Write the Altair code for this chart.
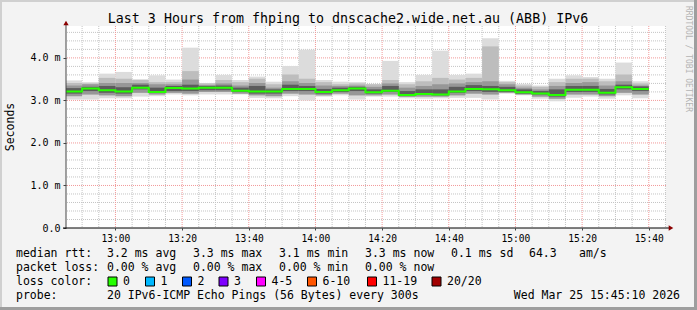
import altair as alt
import pandas as pd

# ---------------- data ----------------
col_times = ["12:45", "12:50", "12:55", "13:00", "13:05", "13:10", "13:15", "13:20",
             "13:25", "13:30", "13:35", "13:40", "13:45", "13:50", "13:55", "14:00",
             "14:05", "14:10", "14:15", "14:20", "14:25", "14:30", "14:35", "14:40",
             "14:45", "14:50", "14:55", "15:00", "15:05", "15:10", "15:15", "15:20",
             "15:25", "15:30", "15:35"]

rtt_min = [3.02, 3.02, 3.05, 3.05, 3.09, 3.10, 3.14, 3.12, 3.14, 3.14, 3.14, 3.06,
           3.05, 3.10, 3.00, 3.09, 3.12, 3.02, 3.09, 3.09, 3.05, 3.04, 3.05, 3.06,
           3.06, 3.02, 3.16, 3.12, 3.04, 2.98, 3.06, 3.09, 3.04, 3.12, 3.05]
rtt_lo2 = [3.10, 3.14, 3.12, 3.10, 3.18, 3.14, 3.18, 3.16, 3.20, 3.20, 3.16, 3.12,
           3.10, 3.16, 3.14, 3.12, 3.16, 3.12, 3.12, 3.14, 3.09, 3.09, 3.09, 3.12,
           3.16, 3.14, 3.18, 3.14, 3.09, 3.04, 3.14, 3.14, 3.10, 3.18, 3.14]
rtt_lo3 = [3.16, 3.22, 3.18, 3.16, 3.26, 3.18, 3.22, 3.22, 3.24, 3.24, 3.20, 3.16,
           3.16, 3.22, 3.22, 3.16, 3.20, 3.22, 3.16, 3.20, 3.10, 3.13, 3.12, 3.18,
           3.22, 3.20, 3.20, 3.16, 3.14, 3.09, 3.20, 3.20, 3.14, 3.26, 3.22]
rtt_median = [3.21, 3.28, 3.24, 3.21, 3.30, 3.20, 3.29, 3.28, 3.30, 3.30, 3.23, 3.21,
              3.21, 3.27, 3.27, 3.20, 3.24, 3.28, 3.19, 3.23, 3.13, 3.15, 3.14, 3.21,
              3.27, 3.26, 3.24, 3.19, 3.16, 3.13, 3.25, 3.25, 3.18, 3.31, 3.27]
rtt_hi3 = [3.29, 3.32, 3.34, 3.31, 3.37, 3.30, 3.34, 3.37, 3.34, 3.35, 3.30, 3.34,
           3.26, 3.37, 3.34, 3.27, 3.30, 3.32, 3.26, 3.34, 3.22, 3.26, 3.26, 3.32,
           3.36, 3.34, 3.32, 3.26, 3.22, 3.26, 3.34, 3.34, 3.27, 3.37, 3.33]
rtt_hi2 = [3.35, 3.38, 3.41, 3.41, 3.41, 3.38, 3.38, 3.49, 3.36, 3.40, 3.35, 3.41,
           3.30, 3.45, 3.41, 3.35, 3.34, 3.35, 3.32, 3.40, 3.30, 3.34, 3.38, 3.40,
           3.43, 3.45, 3.38, 3.30, 3.26, 3.34, 3.41, 3.43, 3.35, 3.45, 3.35]
rtt_hi1 = [3.41, 3.40, 3.53, 3.51, 3.48, 3.43, 3.43, 3.69, 3.40, 3.48, 3.43, 3.51,
           3.38, 3.61, 3.51, 3.43, 3.38, 3.40, 3.38, 3.48, 3.38, 3.45, 3.53, 3.49,
           3.53, 4.27, 3.43, 3.35, 3.32, 3.43, 3.51, 3.51, 3.45, 3.61, 3.40]
rtt_max = [3.47, 3.43, 3.63, 3.67, 3.50, 3.59, 3.49, 4.24, 3.41, 3.60, 3.48, 3.56,
           3.44, 3.81, 4.19, 3.48, 3.44, 3.43, 3.39, 3.93, 3.43, 3.60, 4.17, 3.60,
           3.63, 4.46, 3.46, 3.39, 3.35, 3.51, 3.59, 3.55, 3.51, 3.89, 3.45]

x_tick_labels = ["13:00", "13:20", "13:40", "14:00", "14:20", "14:40", "15:00", "15:20", "15:40"]
y_tick_values = [0, 1, 2, 3, 4]

loss_labels = ["0", "1", "2", "3", "4-5", "6-10", "11-19", "20/20"]
loss_colors = ["#26ff00", "#00b8ff", "#0059ff", "#7e00ff", "#ff00ff", "#ff5500", "#ff0000", "#a10000"]

title_text = "Last 3 Hours from fhping to dnscache2.wide.net.au (ABB) IPv6"
line1 = [("median rtt:", 16), ("3.2 ms avg", 107), ("3.3 ms max", 193), ("3.1 ms min", 279),
         ("3.3 ms now", 365), ("0.1 ms sd", 451), ("64.3", 529), ("am/s", 579)]
line2 = [("packet loss:", 16), ("0.00 % avg", 107), ("0.00 % max", 193),
         ("0.00 % min", 279), ("0.00 % now", 365)]
line4 = [("probe:", 16), ("20 IPv6-ICMP Echo Pings (56 Bytes) every 300s", 107)]
stamp_text = "Wed Mar 25 15:45:10 2026"

# ---------------- helpers ----------------
def to_min(s):
    h, m = s.split(":")
    return (int(h) - 12) * 60 + int(m)

X0 = 45 + 10 / 60.0      # 12:45:10
X1 = X0 + 180            # 15:45:10
LEFT, TOP, W, H = 66, 26, 600, 202
YMAX = 4.75

xs = alt.Scale(domain=[X0, X1], nice=False, zero=False)
ys = alt.Scale(domain=[0, YMAX], nice=False, zero=True)

starts = [to_min(t) for t in col_times]
ends = [s + 5 for s in starts]

band_defs = [
    ("b1", rtt_min, rtt_max, "#dcdcdc"),
    ("b2", rtt_lo2, rtt_hi1, "#bdbdbd"),
    ("b3", rtt_lo2, rtt_hi2, "#979797"),
    ("b4", rtt_lo3, rtt_hi3, "#5c5c5c"),
]

minor_x = [m for m in range(50, 226, 5) if m % 20 != 0]
major_x = [to_min(t) for t in x_tick_labels]
minor_y = [round(v * 0.2, 2) for v in range(1, 24) if v % 5 != 0]
major_y = [1, 2, 3, 4]

x_axis = alt.Axis(
    values=major_x,
    labelExpr="floor(datum.value/60)+12 + ':' + (datum.value%60 < 10 ? '0' : '') + datum.value%60",
    domain=False, ticks=True, tickSize=2, tickColor="#444444", labelFont="DejaVu Sans Mono",
    labelFontSize=9.6, labelColor="#000000", labelPadding=3, grid=False, title=None)
y_axis = alt.Axis(
    values=y_tick_values,
    labelExpr="datum.value == 0 ? '0.0  ' : format(datum.value, '.1f') + ' m'",
    domain=False, ticks=True, tickSize=3, tickColor="#444444", labelFont="DejaVu Sans Mono",
    labelFontSize=10, labelColor="#000000", labelPadding=3, grid=False, title=None)

layers = []

# grid (axis-carrying layers first so the axes survive the layer merge)
layers.append(alt.Chart(pd.DataFrame({"x": minor_x})).mark_rule(
    color="#c4c4c4", strokeWidth=1, strokeDash=[1, 1]).encode(
    x=alt.X("x:Q", scale=xs, axis=x_axis)))
layers.append(alt.Chart(pd.DataFrame({"y": minor_y})).mark_rule(
    color="#c4c4c4", strokeWidth=1, strokeDash=[1, 1]).encode(
    y=alt.Y("y:Q", scale=ys, axis=y_axis)))
layers.append(alt.Chart(pd.DataFrame({"x": major_x})).mark_rule(
    color="#f29a9a", strokeWidth=1, strokeDash=[1, 1]).encode(
    x=alt.X("x:Q", scale=xs, axis=x_axis)))
layers.append(alt.Chart(pd.DataFrame({"y": major_y})).mark_rule(
    color="#f29a9a", strokeWidth=1, strokeDash=[1, 1]).encode(
    y=alt.Y("y:Q", scale=ys, axis=y_axis)))

# smoke bands
for name, lo, hi, col in band_defs:
    df = pd.DataFrame({"x": starts, "x2": ends, "lo": lo, "hi": hi})
    layers.append(alt.Chart(df).mark_rect(color=col, clip=True).encode(
        x=alt.X("x:Q", scale=xs, axis=x_axis), x2="x2:Q",
        y=alt.Y("lo:Q", scale=ys, axis=y_axis), y2="hi:Q"))

# median line (step)
med_df = pd.DataFrame({"x": starts + [ends[-1]], "m": rtt_median + [rtt_median[-1]]})
layers.append(alt.Chart(med_df).mark_line(color="#26ff00", strokeWidth=2,
                                          interpolate="step-after", clip=True).encode(
    x=alt.X("x:Q", scale=xs, axis=x_axis), y=alt.Y("m:Q", scale=ys, axis=y_axis)))

one = pd.DataFrame({"a": [1]})

def text_layer(txt, px, py, size=11.5, align="left", angle=0, color="#000000", baseline="middle"):
    kw = dict(font="DejaVu Sans Mono", fontSize=size, align=align, baseline=baseline, color=color)
    if angle:
        kw["angle"] = angle
    return alt.Chart(one).mark_text(**kw).encode(
        x=alt.value(px - LEFT), y=alt.value(py - TOP), text=alt.value(txt))

def rule_px(x1, y1, x2, y2, color, width):
    return alt.Chart(one).mark_rule(color=color, strokeWidth=width).encode(
        x=alt.value(x1 - LEFT), x2=alt.value(x2 - LEFT),
        y=alt.value(y1 - TOP), y2=alt.value(y2 - TOP))

# axis lines + arrows
layers.append(rule_px(LEFT, 23, LEFT, TOP + H, "#444444", 1))
layers.append(rule_px(LEFT - 3, TOP + H, 670, TOP + H, "#000000", 1))
layers.append(alt.Chart(one).mark_point(shape="triangle-up", filled=True, size=28,
                                        color="#8b0000", opacity=1).encode(
    x=alt.value(0), y=alt.value(-3)))
layers.append(alt.Chart(one).mark_point(shape="triangle-right", filled=True, size=28,
                                        color="#8b0000", opacity=1).encode(
    x=alt.value(671 - LEFT), y=alt.value(H)))

# frame
layers.append(rule_px(0, 1, 697, 1, "#d0d0d0", 2))
layers.append(rule_px(1, 0, 1, 310, "#d0d0d0", 2))
layers.append(rule_px(0, 308.5, 697, 308.5, "#9e9e9e", 3))
layers.append(rule_px(695.5, 0, 695.5, 310, "#9e9e9e", 3))

# title and side texts
layers.append(text_layer(title_text, 348, 19, size=13.3, align="center"))
layers.append(text_layer("Seconds", 11, 127, size=11.5, align="center", angle=270))
layers.append(text_layer("RRDTOOL / TOBI OETIKER", 688, 59, size=8, align="center",
                         angle=90, color="#b4b4b4"))

# legend text
for txt, px in line1:
    layers.append(text_layer(txt, px, 254))
for txt, px in line2:
    layers.append(text_layer(txt, px, 268))
layers.append(text_layer("loss color:", 16, 282))
sw_left = [108, 145.5, 182.5, 219, 256.5, 307.5, 367.5, 432]
for lab, col, sx in zip(loss_labels, loss_colors, sw_left):
    layers.append(alt.Chart(one).mark_rect(color=col, stroke="#000000", strokeWidth=1).encode(
        x=alt.value(sx - LEFT), x2=alt.value(sx + 9 - LEFT),
        y=alt.value(277 - TOP), y2=alt.value(286 - TOP)))
    layers.append(text_layer(lab, sx + 15, 282))
for txt, px in line4:
    layers.append(text_layer(txt, px, 296))
layers.append(text_layer(stamp_text, 680, 296, align="right"))

chart = alt.layer(*layers).properties(
    width=W, height=H,
    padding={"left": LEFT, "top": TOP, "right": 697 - LEFT - W, "bottom": 310 - TOP - H},
    autosize=alt.AutoSizeParams(type="none"),
    background="#f3f3f3",
).configure_view(fill="#ffffff", stroke=None)

chart.save("out.html", embed_options={"renderer": "svg", "actions": False})
